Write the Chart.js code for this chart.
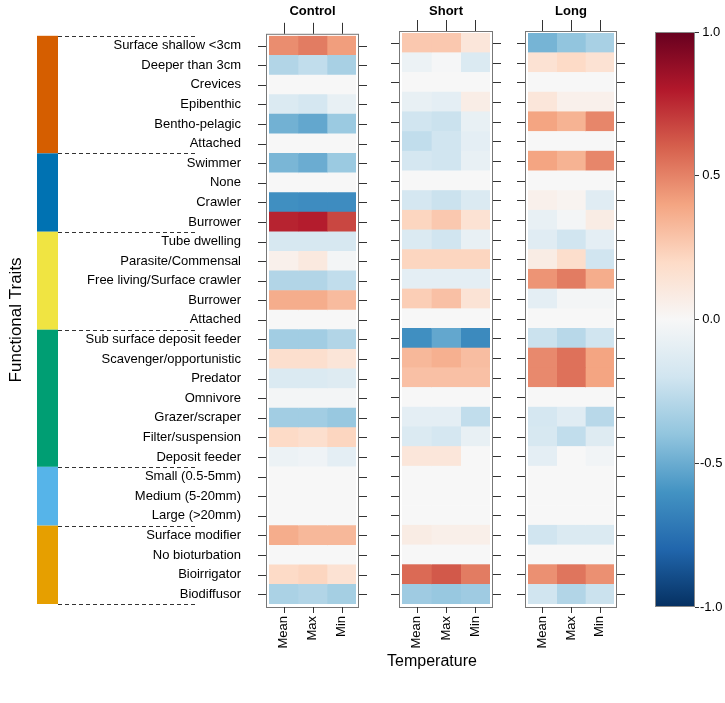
<!DOCTYPE html>
<html>
<head>
<meta charset="utf-8">
<script src="https://cdn.jsdelivr.net/npm/chart.js@4.4.1/dist/chart.umd.min.js"></script>
<style>
  body { margin: 0; background: #fff; width: 725px; height: 703px; position: relative; overflow: hidden;
         font-family: "Liberation Sans", Arial, sans-serif; }
  canvas { position: absolute; top: 0; }
  #xTitle { position: absolute; left: 332px; width: 200px; top: 652px; text-align: center; font-size: 16px; color: #000; }
</style>
</head>
<body>
<canvas id="controlChart" width="375" height="703" style="left:0"></canvas>
<canvas id="shortChart" width="135" height="703" style="left:375px"></canvas>
<canvas id="longChart" width="130" height="703" style="left:510px"></canvas>
<canvas id="scaleChart" width="85" height="703" style="left:640px"></canvas>
<div id="xTitle">Temperature</div>
<script>
// trait names, top to bottom
const traits = [
  'Surface shallow <3cm', 'Deeper than 3cm', 'Crevices', 'Epibenthic', 'Bentho-pelagic', 'Attached',
  'Swimmer', 'None', 'Crawler', 'Burrower',
  'Tube dwelling', 'Parasite/Commensal', 'Free living/Surface crawler', 'Burrower', 'Attached',
  'Sub surface deposit feeder', 'Scavenger/opportunistic', 'Predator', 'Omnivore', 'Grazer/scraper', 'Filter/suspension', 'Deposit feeder',
  'Small (0.5-5mm)', 'Medium (5-20mm)', 'Large (>20mm)',
  'Surface modifier', 'No bioturbation', 'Bioirrigator', 'Biodiffusor'
];
const columns = ['Mean', 'Max', 'Min'];
const groupSizes = [6, 4, 5, 7, 3, 4];
const colorTicks = [-1, -0.5, 0, 0.5, 1];

// correlations per panel / column
const controlMean = [0.47, -0.30, 0, -0.15, -0.48, 0, -0.46, 0, -0.62, 0.77, -0.17, 0.05, -0.30, 0.37, 0,
  -0.35, 0.17, -0.15, -0.02, -0.35, 0.20, -0.06, 0, 0, 0, 0.37, 0, 0.20, -0.32];
const controlMax = [0.52, -0.25, 0, -0.18, -0.52, 0, -0.50, 0, -0.63, 0.79, -0.17, 0.10, -0.30, 0.37, 0,
  -0.35, 0.17, -0.15, -0.02, -0.35, 0.17, -0.04, 0, 0, 0, 0.33, 0, 0.22, -0.30];
const controlMin = [0.42, -0.33, 0, -0.08, -0.37, 0, -0.37, 0, -0.63, 0.67, -0.17, -0.02, -0.25, 0.32, 0,
  -0.30, 0.13, -0.13, -0.02, -0.38, 0.22, -0.10, 0, 0, 0, 0.33, 0, 0.15, -0.34];

const shortMean = [0.27, -0.06, 0, -0.08, -0.20, -0.25, -0.18, 0, -0.18, 0.22, -0.15, 0.22, -0.10, 0.25, 0,
  -0.62, 0.33, 0.30, 0, -0.10, -0.15, 0.12, 0, 0, 0, 0.08, 0, 0.57, -0.36];
const shortMax = [0.27, -0.01, 0, -0.10, -0.22, -0.20, -0.20, 0, -0.22, 0.27, -0.20, 0.22, -0.10, 0.30, 0,
  -0.52, 0.36, 0.30, 0, -0.10, -0.18, 0.12, 0, 0, 0, 0.06, 0, 0.62, -0.38];
const shortMin = [0.12, -0.15, 0, 0.07, -0.08, -0.10, -0.08, 0, -0.15, 0.15, -0.08, 0.22, -0.10, 0.14, 0,
  -0.64, 0.31, 0.30, 0, -0.25, -0.08, 0, 0, 0, 0, 0.06, 0, 0.52, -0.36];

const longMean = [-0.47, 0.15, 0, 0.12, 0.40, 0, 0.40, 0, 0.05, -0.08, -0.12, 0.08, 0.45, -0.10, 0,
  -0.22, 0.48, 0.48, 0, -0.18, -0.17, -0.10, 0, 0, 0, -0.20, 0, 0.46, -0.20];
const longMax = [-0.40, 0.20, 0, 0.05, 0.35, 0, 0.35, 0, 0.03, -0.02, -0.20, 0.18, 0.52, -0.02, 0,
  -0.28, 0.55, 0.55, 0, -0.12, -0.25, 0, 0, 0, 0, -0.15, 0, 0.54, -0.30];
const longMin = [-0.33, 0.15, 0, 0.05, 0.49, 0, 0.49, 0, -0.12, 0.08, -0.10, -0.20, 0.37, -0.02, 0,
  -0.20, 0.40, 0.40, 0, -0.28, -0.13, -0.03, 0, 0, 0, -0.15, 0, 0.46, -0.22];

// RdBu palette, -1 .. 1
const rdbuStops = [[5,48,97],[33,102,172],[67,147,195],[146,197,222],[209,229,240],[247,247,247],
  [253,219,199],[244,165,130],[214,96,77],[178,24,43],[103,0,31]];
const groupColors = ['#D55E00', '#0072B2', '#F0E442', '#009E73', '#56B4E9', '#E69F00'];
const FONT = '"Liberation Sans", Arial, sans-serif';

function rdbu(v) {
  const t = (Math.max(-1, Math.min(1, v)) + 1) / 2 * (rdbuStops.length - 1);
  const i = Math.min(Math.floor(t), rdbuStops.length - 2);
  const f = t - i;
  const a = rdbuStops[i], b = rdbuStops[i + 1];
  const c = a.map((x, k) => Math.round(x + (b[k] - x) * f));
  return `rgb(${c[0]},${c[1]},${c[2]})`;
}

// frame, tick marks and title around each panel
const panelFrame = {
  id: 'panelFrame',
  afterDraw(chart, args, opts) {
    const { ctx, chartArea: a, scales: { x, y } } = chart;
    const L = a.left - 3, R = a.right + 3, T = a.top - 2, B = a.bottom + 3;
    ctx.save();
    ctx.strokeStyle = '#777';
    ctx.lineWidth = 1;
    ctx.strokeRect(L + 0.5, T + 0.5, R - L - 1, B - T);
    ctx.strokeStyle = '#333';
    ctx.beginPath();
    traits.forEach((t, i) => {
      const py = Math.round(y.getPixelForValue(i)) + 0.5;
      ctx.moveTo(L - 8, py); ctx.lineTo(L, py);
      ctx.moveTo(R, py); ctx.lineTo(R + 8, py);
    });
    x.ticks.forEach(tk => {
      const px = Math.round(x.getPixelForValue(tk.value)) + 0.5;
      ctx.moveTo(px, T - 11); ctx.lineTo(px, T);
      ctx.moveTo(px, B); ctx.lineTo(px, B + 6);
    });
    ctx.stroke();
    ctx.fillStyle = '#000';
    ctx.font = 'bold 13px ' + FONT;
    ctx.textAlign = 'center';
    ctx.textBaseline = 'middle';
    ctx.fillText(opts.title, (a.left + a.right) / 2, 11);
    ctx.restore();
  }
};

// coloured trait groups with dashed separators, plus the y title
const traitGroups = {
  id: 'traitGroups',
  afterDraw(chart) {
    const { ctx, scales: { y } } = chart;
    const rowH = y.getPixelForValue(1) - y.getPixelForValue(0);
    ctx.save();
    let start = 0;
    const edges = [];
    groupSizes.forEach((n, g) => {
      const top = y.getPixelForValue(start) - rowH / 2;
      const bot = y.getPixelForValue(start + n - 1) + rowH / 2;
      ctx.fillStyle = groupColors[g];
      ctx.fillRect(37, top, 21, bot - top);
      edges.push(top);
      if (g === groupSizes.length - 1) edges.push(bot);
      start += n;
    });
    ctx.strokeStyle = '#333';
    ctx.setLineDash([4, 3]);
    ctx.beginPath();
    edges.forEach(e => {
      const py = Math.round(e) + 0.5;
      ctx.moveTo(58, py); ctx.lineTo(196, py);
    });
    ctx.stroke();
    ctx.setLineDash([]);
    ctx.fillStyle = '#000';
    ctx.font = '17px ' + FONT;
    ctx.textAlign = 'center';
    ctx.textBaseline = 'middle';
    ctx.translate(16, (chart.chartArea.top + chart.chartArea.bottom) / 2);
    ctx.rotate(-Math.PI / 2);
    ctx.fillText('Functional Traits', 0, 0);
    ctx.restore();
  }
};

function makePanel(id, title, series, padLeft, padRight, showLabels) {
  const datasets = series.map((vals, j) => ({
    label: columns[j],
    data: vals.map(() => [j, j + 1]),
    backgroundColor: vals.map(rdbu),
    borderWidth: 0,
    barPercentage: 1,
    categoryPercentage: 1,
    grouped: false
  }));
  return new Chart(document.getElementById(id), {
    type: 'bar',
    data: { labels: traits, datasets },
    options: {
      indexAxis: 'y',
      responsive: false,
      animation: false,
      layout: { padding: { top: 33, left: padLeft, right: padRight, bottom: 0 } },
      plugins: { legend: { display: false }, tooltip: { enabled: false }, panelFrame: { title } },
      scales: {
        y: {
          type: 'category',
          offset: true,
          grid: { display: false, drawTicks: false },
          border: { display: false },
          ticks: { display: showLabels, color: '#000', font: { size: 13, family: FONT }, padding: 28, autoSkip: false },
          afterFit: s => { s.width = showLabels ? 269 : 0; }
        },
        x: {
          type: 'linear',
          min: 0, max: 3,
          grid: { display: false, drawTicks: false },
          border: { display: false },
          afterBuildTicks: s => { s.ticks = columns.map((c, i) => ({ value: i + 0.5 })); },
          ticks: {
            color: '#000', font: { size: 13, family: FONT }, padding: 12,
            minRotation: 90, maxRotation: 90, autoSkip: false,
            callback: (v, i) => columns[i]
          },
          afterFit: s => { s.height = 99; }
        }
      }
    },
    plugins: showLabels ? [panelFrame, traitGroups] : [panelFrame]
  });
}

makePanel('controlChart', 'Control', [controlMean, controlMax, controlMin], 0, 19, true);
makePanel('shortChart', 'Short', [shortMean, shortMax, shortMin], 27, 20, false);
makePanel('longChart', 'Long', [longMean, longMax, longMin], 18, 26, false);

// colour key
const keyGradient = {
  id: 'keyGradient',
  beforeDraw(chart) {
    const { ctx, chartArea: a } = chart;
    const g = ctx.createLinearGradient(0, a.bottom, 0, a.top);
    rdbuStops.forEach((c, i) => g.addColorStop(i / (rdbuStops.length - 1), `rgb(${c[0]},${c[1]},${c[2]})`));
    ctx.save();
    ctx.fillStyle = g;
    ctx.fillRect(a.left, a.top, a.right - a.left, a.bottom - a.top);
    ctx.strokeStyle = '#888';
    ctx.strokeRect(a.left + 0.5, a.top + 0.5, a.right - a.left - 1, a.bottom - a.top - 1);
    ctx.restore();
  }
};

new Chart(document.getElementById('scaleChart'), {
  type: 'bar',
  data: { labels: [''], datasets: [{ data: [null] }] },
  options: {
    responsive: false,
    animation: false,
    layout: { padding: { top: 32, left: 15, right: 0, bottom: 96 } },
    plugins: { legend: { display: false }, tooltip: { enabled: false } },
    scales: {
      x: { display: false },
      y: {
        position: 'right',
        min: -1, max: 1,
        afterBuildTicks: s => { s.ticks = colorTicks.map(v => ({ value: v })); },
        grid: { drawOnChartArea: false, drawTicks: true, tickLength: 4, color: '#333' },
        border: { display: false },
        ticks: { color: '#000', font: { size: 13, family: FONT }, padding: 1, crossAlign: 'center',
                 callback: v => v.toFixed(1) },
        afterFit: s => { s.width = 30; }
      }
    }
  },
  plugins: [keyGradient]
});
</script>
</body>
</html>
